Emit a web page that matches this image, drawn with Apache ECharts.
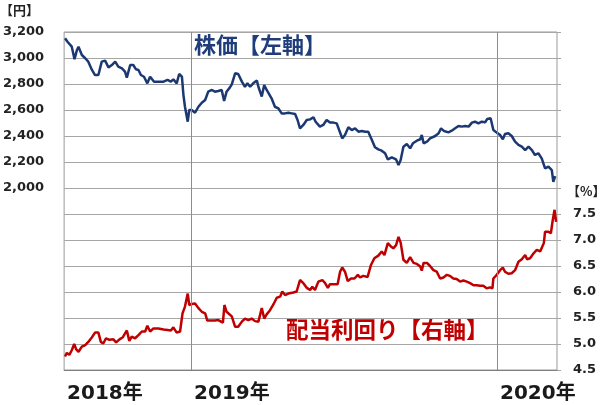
<!DOCTYPE html>
<html>
<head>
<meta charset="utf-8">
<title>株価と配当利回り</title>
<script src="https://cdn.jsdelivr.net/npm/echarts@6/dist/echarts.min.js"></script>
<style>
  html, body { margin: 0; padding: 0; background: #fff; }
  #chart { width: 600px; height: 405px; }
</style>
</head>
<body>
<div id="chart"></div>
<script>
// x positions are decimal years (2018.585 = early Aug 2018)
var priceYears = [
  2018.588, 2018.596, 2018.602, 2018.610, 2018.619, 2018.627, 2018.632, 2018.643, 2018.654, 2018.664,
  2018.676, 2018.686, 2018.697, 2018.708, 2018.719, 2018.730, 2018.741, 2018.752, 2018.762, 2018.774,
  2018.784, 2018.790, 2018.801, 2018.811, 2018.820, 2018.828, 2018.836, 2018.846, 2018.857, 2018.866,
  2018.879, 2018.893, 2018.910, 2018.923, 2018.934, 2018.942, 2018.953, 2018.961, 2018.970, 2018.975,
  2018.980, 2018.989, 2018.994, 2019.002, 2019.013, 2019.024, 2019.035, 2019.046, 2019.056, 2019.068,
  2019.078, 2019.089, 2019.100, 2019.108, 2019.116, 2019.127, 2019.133, 2019.144, 2019.154, 2019.166,
  2019.176, 2019.184, 2019.193, 2019.203, 2019.215, 2019.220, 2019.231, 2019.239, 2019.247, 2019.252,
  2019.263, 2019.274, 2019.285, 2019.296, 2019.307, 2019.318, 2019.329, 2019.340, 2019.348, 2019.356,
  2019.367, 2019.378, 2019.389, 2019.400, 2019.407, 2019.421, 2019.432, 2019.443, 2019.454, 2019.465,
  2019.476, 2019.486, 2019.494, 2019.503, 2019.514, 2019.525, 2019.536, 2019.547, 2019.558, 2019.569,
  2019.579, 2019.591, 2019.601, 2019.612, 2019.623, 2019.634, 2019.643, 2019.656, 2019.661, 2019.670,
  2019.678, 2019.685, 2019.694, 2019.705, 2019.716, 2019.725, 2019.738, 2019.749, 2019.754, 2019.760,
  2019.771, 2019.781, 2019.798, 2019.809, 2019.817, 2019.827, 2019.841, 2019.852, 2019.863, 2019.874,
  2019.885, 2019.896, 2019.907, 2019.918, 2019.928, 2019.939, 2019.950, 2019.961, 2019.968, 2019.979,
  2019.988, 2019.999, 2020.010, 2020.019, 2020.026, 2020.037, 2020.048, 2020.059, 2020.070, 2020.081,
  2020.092, 2020.103, 2020.114, 2020.124, 2020.135, 2020.146, 2020.157, 2020.168, 2020.179, 2020.184,
  2020.190
];
var priceValues = [
  3152, 3125, 3138, 3087, 2990, 3062, 3087, 3023, 2998, 2972,
  2908, 2869, 2869, 2972, 2980, 2928, 2946, 2972, 2933, 2920,
  2895, 2849, 2946, 2946, 2913, 2908, 2869, 2856, 2805, 2856,
  2818, 2818, 2818, 2831, 2818, 2836, 2805, 2877, 2856, 2715,
  2625, 2510, 2600, 2600, 2579, 2625, 2656, 2677, 2741, 2754,
  2741, 2746, 2754, 2669, 2741, 2774, 2797, 2882, 2877, 2818,
  2779, 2805, 2779, 2805, 2826, 2779, 2703, 2792, 2754, 2767,
  2690, 2625, 2613, 2574, 2574, 2579, 2574, 2569, 2523, 2459,
  2485, 2523, 2528, 2544, 2510, 2472, 2485, 2523, 2503, 2503,
  2497, 2433, 2382, 2408, 2467, 2446, 2459, 2433, 2438, 2433,
  2433, 2369, 2313, 2297, 2287, 2267, 2220, 2236, 2241, 2220,
  2177, 2215, 2318, 2338, 2305, 2344, 2364, 2375, 2408, 2344,
  2356, 2382, 2400, 2421, 2459, 2438, 2428, 2441, 2459, 2477,
  2472, 2477, 2472, 2503, 2510, 2497, 2510, 2505, 2531, 2536,
  2446, 2426, 2408, 2375, 2415, 2421, 2400, 2356, 2331, 2318,
  2292, 2318, 2292, 2254, 2267, 2228, 2151, 2164, 2138, 2048,
  2092
];
var yieldYears = [
  2018.588, 2018.594, 2018.602, 2018.610, 2018.618, 2018.624, 2018.632, 2018.643, 2018.654, 2018.664,
  2018.676, 2018.686, 2018.697, 2018.705, 2018.713, 2018.722, 2018.733, 2018.746, 2018.755, 2018.766,
  2018.777, 2018.790, 2018.798, 2018.806, 2018.817, 2018.828, 2018.839, 2018.850, 2018.857, 2018.866,
  2018.877, 2018.893, 2018.910, 2018.923, 2018.934, 2018.942, 2018.953, 2018.964, 2018.972, 2018.980,
  2018.989, 2018.994, 2019.002, 2019.013, 2019.024, 2019.035, 2019.046, 2019.053, 2019.068, 2019.078,
  2019.089, 2019.104, 2019.109, 2019.116, 2019.133, 2019.144, 2019.154, 2019.166, 2019.176, 2019.187,
  2019.198, 2019.209, 2019.220, 2019.231, 2019.239, 2019.247, 2019.258, 2019.269, 2019.280, 2019.291,
  2019.298, 2019.307, 2019.318, 2019.334, 2019.345, 2019.356, 2019.367, 2019.378, 2019.389, 2019.396,
  2019.405, 2019.416, 2019.429, 2019.438, 2019.447, 2019.454, 2019.465, 2019.479, 2019.487, 2019.494,
  2019.503, 2019.512, 2019.523, 2019.534, 2019.545, 2019.552, 2019.563, 2019.577, 2019.588, 2019.599,
  2019.612, 2019.623, 2019.632, 2019.643, 2019.654, 2019.661, 2019.670, 2019.678, 2019.685, 2019.694,
  2019.705, 2019.716, 2019.727, 2019.738, 2019.749, 2019.754, 2019.760, 2019.771, 2019.781, 2019.792,
  2019.803, 2019.814, 2019.825, 2019.836, 2019.846, 2019.857, 2019.868, 2019.879, 2019.890, 2019.901,
  2019.912, 2019.923, 2019.934, 2019.944, 2019.955, 2019.966, 2019.977, 2019.985, 2019.988, 2019.999,
  2020.010, 2020.019, 2020.026, 2020.037, 2020.048, 2020.059, 2020.070, 2020.081, 2020.092, 2020.098,
  2020.108, 2020.119, 2020.130, 2020.141, 2020.153, 2020.157, 2020.168, 2020.176, 2020.182, 2020.188,
  2020.193
];
var yieldValues = [
  4.76, 4.83, 4.79, 4.88, 5.00, 4.90, 4.85, 4.95, 4.98, 5.04,
  5.13, 5.22, 5.22, 5.04, 5.01, 5.11, 5.08, 5.09, 5.03, 5.09,
  5.13, 5.26, 5.06, 5.14, 5.11, 5.17, 5.24, 5.24, 5.35, 5.24,
  5.30, 5.30, 5.28, 5.27, 5.26, 5.32, 5.22, 5.24, 5.59, 5.72,
  5.97, 5.75, 5.77, 5.78, 5.69, 5.62, 5.59, 5.45, 5.45, 5.45,
  5.46, 5.41, 5.75, 5.62, 5.53, 5.33, 5.33, 5.43, 5.49, 5.46,
  5.49, 5.44, 5.43, 5.69, 5.49, 5.57, 5.65, 5.76, 5.89, 5.91,
  6.01, 5.94, 5.97, 5.99, 6.01, 6.23, 6.17, 6.08, 6.04, 6.10,
  6.04, 6.20, 6.23, 6.17, 6.08, 6.15, 6.15, 6.15, 6.39, 6.47,
  6.39, 6.21, 6.26, 6.26, 6.33, 6.28, 6.31, 6.29, 6.52, 6.65,
  6.70, 6.78, 6.71, 6.94, 6.87, 6.84, 6.90, 7.06, 6.95, 6.62,
  6.56, 6.67, 6.56, 6.54, 6.49, 6.41, 6.56, 6.56, 6.50, 6.42,
  6.39, 6.26, 6.28, 6.33, 6.31, 6.26, 6.25, 6.20, 6.22, 6.20,
  6.17, 6.13, 6.13, 6.12, 6.12, 6.07, 6.09, 6.07, 6.26, 6.33,
  6.42, 6.47, 6.39, 6.35, 6.36, 6.42, 6.58, 6.63, 6.71, 6.63,
  6.65, 6.74, 6.81, 6.78, 6.94, 7.16, 7.16, 7.13, 7.38, 7.58,
  7.35
];
var yearLines = [2019, 2020];
var xStart = 2018.585;
var xEnd = 2020.196;

var navy = "#1c3873";
var red = "#c00000";
var gridColor = "#a6a6a6";

function pairs(xs, ys) {
  var out = [];
  for (var i = 0; i < xs.length; i++) {
    out.push([xs[i], ys[i]]);
  }
  return out;
}

function comma(v) {
  return String(v).replace(/\B(?=(\d{3})+(?!\d))/g, ",");
}

var chart = echarts.init(document.getElementById("chart"));

chart.setOption({
  animation: false,
  grid: {
    left: 64,
    right: 43,
    top: 32,
    bottom: 35,
    show: true,
    borderColor: "#999",
    borderWidth: 1
  },
  xAxis: {
    type: "value",
    min: xStart,
    max: xEnd,
    splitLine: { show: false },
    axisTick: { show: false },
    axisLine: { show: true, lineStyle: { color: "#808080" } },
    axisLabel: {
      customValues: [xStart].concat(yearLines),
      formatter: function (v) {
        return Math.floor(v + 0.001) + "年";
      },
      align: "left",
      padding: [0, 0, 0, 3],
      margin: 14,
      fontFamily: "DejaVu Sans, Noto Sans CJK JP",
      fontWeight: "bold",
      fontSize: 20,
      color: "#1a1a1a"
    }
  },
  yAxis: [
    {
      type: "value",
      min: 600,
      max: 3200,
      interval: 200,
      axisLine: { show: false },
      axisTick: { show: false },
      splitLine: { show: true, lineStyle: { color: gridColor, width: 1 } },
      axisLabel: {
        margin: 20,
        formatter: function (v) {
          return v >= 2000 ? comma(v) : "";
        },
        fontFamily: "DejaVu Sans",
        fontWeight: "bold",
        fontSize: 13,
        color: "#222"
      }
    },
    {
      type: "value",
      min: 4.5,
      max: 11,
      interval: 0.5,
      position: "right",
      axisLine: { show: false },
      axisTick: { show: true, length: 4, lineStyle: { color: gridColor } },
      splitLine: { show: false },
      axisLabel: {
        margin: 16,
        formatter: function (v) {
          return v <= 7.5 ? v.toFixed(1) : "";
        },
        fontFamily: "DejaVu Sans",
        fontWeight: "bold",
        fontSize: 13,
        color: "#222"
      }
    }
  ],
  series: [
    {
      name: "株価",
      type: "line",
      yAxisIndex: 0,
      data: pairs(priceYears, priceValues),
      showSymbol: false,
      lineStyle: { color: navy, width: 2.5 },
      itemStyle: { color: navy },
      markLine: {
        silent: true,
        symbol: "none",
        label: { show: false },
        lineStyle: { color: "#8c8c8c", width: 1, type: "solid" },
        data: yearLines.map(function (y) { return { xAxis: y }; })
      },
      z: 3
    },
    {
      name: "配当利回り",
      type: "line",
      yAxisIndex: 1,
      data: pairs(yieldYears, yieldValues),
      showSymbol: false,
      lineStyle: { color: red, width: 2.5 },
      itemStyle: { color: red },
      z: 3
    }
  ],
  graphic: [
    {
      type: "text",
      left: 0,
      top: 4,
      style: {
        text: "【円】",
        font: "bold 13px 'Noto Sans CJK JP'",
        fill: "#222"
      }
    },
    {
      type: "text",
      left: 567,
      top: 185,
      style: {
        text: "【%】",
        font: "bold 13px 'Noto Sans CJK JP'",
        fill: "#222"
      }
    },
    {
      type: "text",
      left: 194,
      top: 34,
      style: {
        text: "株価【左軸】",
        font: "bold 22px 'Noto Sans CJK JP'",
        fill: "#1f3d7a"
      }
    },
    {
      type: "text",
      left: 286,
      top: 318,
      style: {
        text: "配当利回り【右軸】",
        font: "bold 22.5px 'Noto Sans CJK JP'",
        fill: red
      }
    }
  ]
});
</script>
</body>
</html>
